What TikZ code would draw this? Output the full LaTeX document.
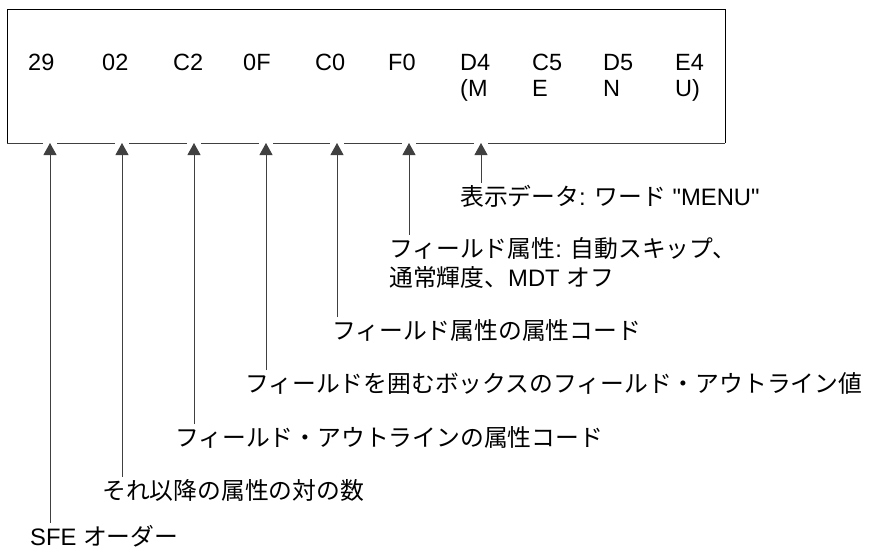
\documentclass[tikz,border=0pt]{standalone}
\usepackage{fontspec}
\setmainfont{Liberation Sans}
\newfontfamily\jp{Noto Sans CJK JP}
\newfontfamily\qfont{Liberation Sans}[Ligatures=TeXOff]
\usetikzlibrary{arrows.meta}
\begin{document}
\begin{tikzpicture}[x=1pt,y=-1pt,
  hex/.style={anchor=base west, inner sep=0pt, font=\fontsize{23.5}{28}\selectfont},
  lbl/.style={anchor=base west, inner sep=0pt, outer ysep=2pt, font=\fontsize{23.8}{28}\selectfont},
  boxline/.style={draw=black, line width=0.9pt},
  arr/.style={draw=black!75, line width=0.9pt, -{Triangle[width=13pt,length=12pt]}}]
\useasboundingbox (0,0) rectangle (870,550);
% box
\draw[boxline] (7,143) -- (7,9) -- (725,9) -- (725,143);
\draw[boxline, draw=black!75] (7,143) -- (43,143) (57,143) -- (115,143) (129,143) -- (187,143)
  (201,143) -- (259,143) (273,143) -- (330,143) (344,143) -- (402,143)
  (416,143) -- (474,143) (488,143) -- (725,143);
% hex values
\node[hex] (h1) at (28,70) {29};
\node[hex] (h2) at (102,70) {02};
\node[hex] (h3) at (173,70) {C2};
\node[hex] (h4) at (243,70) {0F};
\node[hex] (h5) at (315,70) {C0};
\node[hex] (h6) at (388,70) {F0};
\node[hex] (h7) at (460,70) {D4};
\node[hex] (h8) at (532,70) {C5};
\node[hex] (h9) at (603,70) {D5};
\node[hex] (h10) at (675,70) {E4};
\node[hex] (c7) at (460,96) {(M};
\node[hex] (c8) at (532,96) {E};
\node[hex] (c9) at (603,96) {N};
\node[hex] (c10) at (675,96) {U)};
% arrow tip points
\coordinate (a1) at (50,143);
\coordinate (a2) at (122,143);
\coordinate (a3) at (194,143);
\coordinate (a4) at (266,143);
\coordinate (a5) at (337,143);
\coordinate (a6) at (409,143);
\coordinate (a7) at (481,143);
% labels
\node[lbl] (l7) at (460,205) {{\jp 表示データ}: {\jp ワード} {\qfont "MENU"}};
\node[lbl] (l6) at (389,257) {{\jp フィールド属性}: {\jp 自動スキップ、}};
\node[lbl] (l6b) at (389,286) {{\jp 通常輝度、}MDT {\jp オフ}};
\node[lbl] (l5) at (332,339) {\jp フィールド属性の属性コード};
\node[lbl] (l4) at (245,392) {\jp フィールドを囲むボックスのフィールド・アウトライン値};
\node[lbl] (l3) at (175,446) {\jp フィールド・アウトラインの属性コード};
\node[lbl] (l2) at (102,499) {\jp それ以降の属性の対の数};
\node[lbl] (l1) at (30,545) {SFE {\jp オーダー}};
% connectors
\draw[arr] (l1.north -| a1) -- (a1);
\draw[arr] (l2.north -| a2) -- (a2);
\draw[arr] (l3.north -| a3) -- (a3);
\draw[arr] (l4.north -| a4) -- (a4);
\draw[arr] (l5.north -| a5) -- (a5);
\draw[arr] (l6.north -| a6) -- (a6);
\draw[arr] (l7.north -| a7) -- (a7);
\end{tikzpicture}
\end{document}
